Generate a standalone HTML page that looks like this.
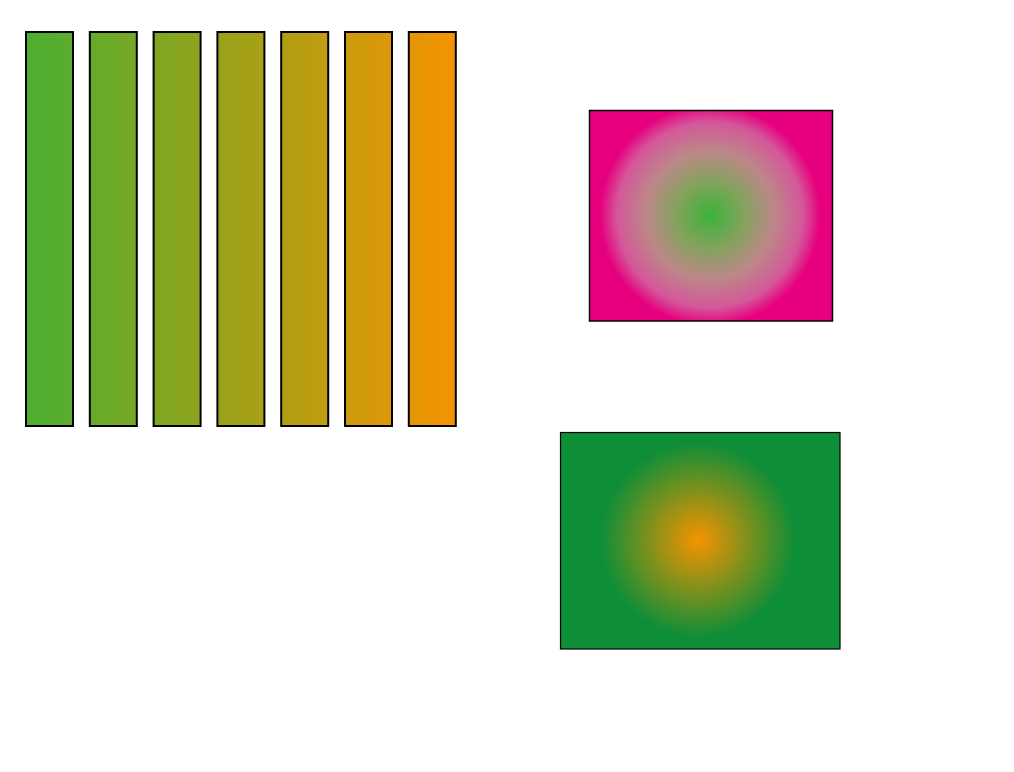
<!DOCTYPE html>
<html><head><meta charset="utf-8"><style>
html,body{margin:0;padding:0;background:#fff;width:1014px;height:772px;overflow:hidden}
</style></head><body>
<svg id="svg" width="1014" height="772" viewBox="0 0 1014 772" xmlns="http://www.w3.org/2000/svg">
<defs>
<linearGradient id="lg" gradientUnits="userSpaceOnUse" x1="26" y1="0" x2="455" y2="0">
<stop offset="0" stop-color="#4BAF32"/>
<stop offset="1" stop-color="#F59300"/>
</linearGradient>
<radialGradient id="rg1" gradientUnits="userSpaceOnUse" cx="710" cy="215" r="116">
<stop offset="0" stop-color="#3BB33A"/>
<stop offset="0.3" stop-color="#85A25E"/>
<stop offset="0.55" stop-color="#BC8888"/>
<stop offset="0.8" stop-color="#D4579A"/>
<stop offset="0.95" stop-color="#E6007E"/>
<stop offset="1" stop-color="#E6007E"/>
</radialGradient>
<radialGradient id="rg2" gradientUnits="userSpaceOnUse" cx="698" cy="540" r="102">
<stop offset="0" stop-color="#F59300"/>
<stop offset="0.95" stop-color="#0F8E38"/>
<stop offset="1" stop-color="#0F8E38"/>
</radialGradient>
</defs>
<g id="bars"></g>
<rect x="589.5" y="110.5" width="243" height="210.5" fill="url(#rg1)" stroke="#000" stroke-width="1.5"/>
<rect x="560.5" y="432.5" width="279.5" height="216.5" fill="url(#rg2)" stroke="#000" stroke-width="1.2"/>
</svg>
<script>
const barIds = ["bar-1","bar-2","bar-3","bar-4","bar-5","bar-6","bar-7"];
const barHeights = [394,394,394,394,394,394,394];
const g = document.getElementById('bars');
const x0 = 26, step = 63.8, w = 47, base = 426;
barIds.forEach((id,i)=>{
  const r = document.createElementNS('http://www.w3.org/2000/svg','rect');
  r.setAttribute('x', x0 + i*step);
  r.setAttribute('y', base - barHeights[i]);
  r.setAttribute('width', w);
  r.setAttribute('height', barHeights[i]);
  r.setAttribute('fill', 'url(#lg)');
  r.setAttribute('stroke', '#000');
  r.setAttribute('stroke-width', '2');
  
  
  g.appendChild(r);
});
</script>
</body></html>
